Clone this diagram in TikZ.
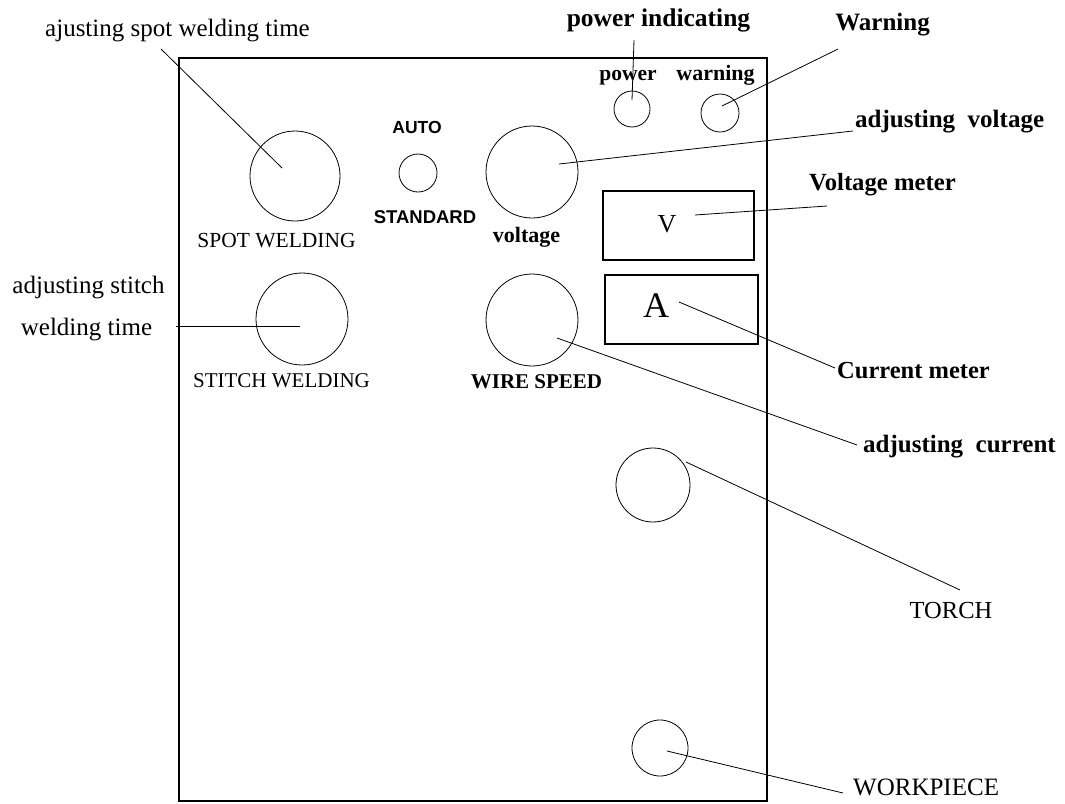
\documentclass[tikz,border=0pt]{standalone}
\usepackage{fontspec}
\setmainfont{Liberation Serif}
\newfontfamily\panelsans{Liberation Sans}

\begin{document}
\begin{tikzpicture}[x=1pt, y=-1pt,
  knob/.style={draw, circle, inner sep=0pt, minimum size=#1, line width=0.8pt},
  meterbox/.style={draw, rectangle, line width=1.1pt},
  panel/.style={draw, line width=1.3pt},
  lead/.style={line width=0.8pt},
  txt/.style={inner sep=0pt, anchor=base, font=\fontsize{#1}{#1}\selectfont},
  btxt/.style={inner sep=0pt, anchor=base, font=\fontsize{#1}{#1}\selectfont\bfseries},
  stxt/.style={inner sep=0pt, anchor=base, font=\fontsize{#1}{#1}\selectfont\panelsans\bfseries}]

\useasboundingbox (0,0) rectangle (1065,803);

% front panel outline
\draw[panel] (179,58) rectangle (767,801);

% knobs and lamps
\node[knob=90] (spot)  at (295,176) {};
\node[knob=92] (stitch) at (302,319) {};
\node[knob=38] (auto)  at (418,173) {};
\node[knob=92] (volt)  at (532,172) {};
\node[knob=92] (wire)  at (532,320) {};
\node[knob=36] (pwr)   at (632,109) {};
\node[knob=38] (warn)  at (720,113) {};
\node[knob=74] (torch) at (653,485) {};
\node[knob=56] (work)  at (660,748) {};

% meters
\node[meterbox, minimum width=151pt, minimum height=69pt] (vbox) at (678.5,225.5) {};
\node[meterbox, minimum width=153pt, minimum height=69pt] (abox) at (681.5,309.5) {};
\node[txt=26] (vsym) at (667,232) {V};
\node[txt=36] (asym) at (656,317) {A};

% labels on the panel
\node[txt=21.5] (spotlbl)   at (276.5,247) {SPOT WELDING};
\node[txt=21]   (stitchlbl) at (281.5,387) {STITCH WELDING};
\node[stxt=17.5] (autolbl)  at (417,133) {AUTO};
\node[stxt=18.5] (stdlbl)   at (425,223) {STANDARD};
\node[btxt=22] (voltlbl)    at (526.5,242) {voltage};
\node[btxt=21.5] (pwrlbl)   at (628,80) {power};
\node[btxt=22] (warnlbl)    at (715.5,80) {warning};
\node[btxt=21] (wirelbl)    at (536.5,388) {WIRE SPEED};

% callout texts
\node[txt=25] (spotnote) at (177.5,36) {ajusting spot welding time};
\node[txt=25] (stitchnote1) at (88.5,293) {adjusting stitch};
\node[txt=25] (stitchnote2) at (86.5,335) {welding time};
\node[btxt=25.5] (pwrnote)  at (658.5,27) {power indicating};
\node[btxt=25] (warnnote)   at (882.5,30) {Warning};
\node[btxt=25, anchor=base west] (voltnote) at (855,127) {adjusting~ voltage};
\node[btxt=24.7, anchor=base west] (vmnote) at (809,190) {Voltage meter};
\node[btxt=24.5, anchor=base west] (amnote) at (837,378) {Current meter};
\node[btxt=25, anchor=base west] (curnote) at (863,452) {adjusting~ current};
\node[txt=24.5] (torchnote) at (951,618) {TORCH};
\node[txt=25, anchor=base west] (worknote) at (853,795) {WORKPIECE};

% leader line end points
\coordinate (spotA) at (282,168);   \coordinate (spotB) at (161,49);
\coordinate (stitchA) at (300,326); \coordinate (stitchB) at (176,326);
\coordinate (voltA) at (559,164);   \coordinate (voltB) at (853,131);
\coordinate (pwrA) at (632,100);    \coordinate (pwrB) at (634,40);
\coordinate (warnA) at (722,106);   \coordinate (warnB) at (838,49);
\coordinate (vA) at (695,215);      \coordinate (vB) at (827,206);
\coordinate (aA) at (679,302);      \coordinate (aB) at (835,368);
\coordinate (wireA) at (557,338);   \coordinate (wireB) at (857,445);
\coordinate (torchA) at (686,462);  \coordinate (torchB) at (960,590);
\coordinate (workA) at (667,751);   \coordinate (workB) at (843,793);

% leader lines
\draw[lead] (spotA) -- (spotB);
\draw[lead] (stitchA) -- (stitchB);
\draw[lead] (voltA) -- (voltB);
\draw[lead] (pwrA) -- (pwrB);
\draw[lead] (warnA) -- (warnB);
\draw[lead] (vA) -- (vB);
\draw[lead] (aA) -- (aB);
\draw[lead] (wireA) -- (wireB);
\draw[lead] (torchA) -- (torchB);
\draw[lead] (workA) -- (workB);
\end{tikzpicture}
\end{document}
